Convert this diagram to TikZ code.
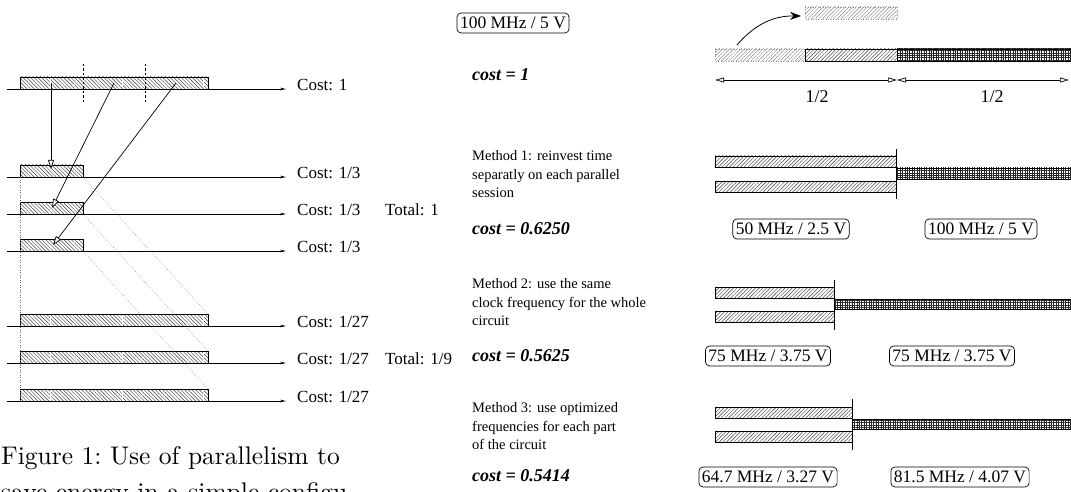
\documentclass[tikz,border=0pt]{standalone}
\usepackage{fontspec}
\newfontfamily\tm{Liberation Serif}
\usetikzlibrary{patterns.meta,arrows.meta}
\tikzset{
  lbar/.style={pattern={Lines[angle=-45,distance=2.6pt,line width=0.45pt]}, pattern color=black!75},
  rbar/.style={pattern={Lines[angle=45,distance=2.6pt,line width=0.45pt]}, pattern color=black!75},
  fadebar/.style={pattern={Lines[angle=45,distance=2.6pt,line width=0.45pt]}, pattern color=black!45},
  edge/.style={draw=black, line width=0.7pt},
  axisline/.style={draw=black, line width=0.8pt, -{Stealth[length=6pt,width=2.6pt]}},
  openarrow/.style={draw=black, line width=0.7pt, -{Triangle[open,length=9pt,width=6pt,fill=white]}},
  dimarrow/.style={draw=black, line width=0.7pt, {Triangle[open,length=9pt,width=5pt]}-{Triangle[open,length=9pt,width=5pt]}},
  guide/.style={draw=black!60, line width=0.5pt, dotted},
  marker/.style={draw=black, line width=0.7pt, dashed, dash pattern=on 2.5pt off 2pt},
  costlabel/.style={anchor=west, inner sep=0pt, font=\tm\fontsize{17}{19}\selectfont},
  freqbox/.style={draw=black, line width=0.7pt, rounded corners=4pt, inner xsep=3pt, inner ysep=4pt, font=\tm\fontsize{17.5}{19}\selectfont},
  costtext/.style={anchor=west, inner sep=0pt, font=\tm\bfseries\itshape\fontsize{18}{20}\selectfont},
  methodtext/.style={anchor=north west, inner sep=0pt, align=left, font=\tm\fontsize{14.5}{18.8}\selectfont},
}
\newcommand{\crossbar}[4]{%
  \fill[pattern={Lines[angle=0,distance=2.4pt,line width=0.55pt]}, pattern color=black!85] (#1,#2) rectangle (#3,#4);
  \fill[pattern={Lines[angle=90,distance=2.4pt,line width=0.55pt]}, pattern color=black!85] (#1,#2) rectangle (#3,#4);
  \draw[edge] (#1,#2) rectangle (#3,#4);}
\begin{document}
\begin{tikzpicture}[x=1pt,y=-1pt]
\useasboundingbox (0,0) rectangle (1071,492);
\clip (0,0) rectangle (1071,492);
\fill[white] (0,0) rectangle (1071,492);

% ---------------- left diagram ----------------
\foreach \t/\w in {77/208,165/83,202/83,239/83,314/208,351/208,389/208}{
  \fill[lbar] (20,\t) rectangle (\w,\t+12);
  \draw[edge] (20,\t+12) -- (20,\t) -- (\w,\t) -- (\w,\t+12);
}
\foreach \t in {77,314,351,389}{
  \foreach \sx in {50,122,203}{
    \draw[white, line width=0.6pt] (\sx,\t+1) -- (\sx,\t+11.5);
  }
}
\foreach \n/\y in {a/89,b/177,c/214,d/251,e/326,f/363,g/401}{
  \coordinate (\n0) at (7,\y);
  \coordinate (\n1) at (286,\y);
  \draw[axisline] (\n0) -- (\n1);
}
\coordinate (m1a) at (83,64); \coordinate (m1b) at (83,102);
\coordinate (m2a) at (145,64); \coordinate (m2b) at (145,102);
\draw[marker] (m1a) -- (m1b);
\draw[marker] (m2a) -- (m2b);
\coordinate (v0) at (20,177); \coordinate (v1) at (20,401);
\draw[guide] (v0) -- (v1);
\coordinate (s1) at (83,177); \coordinate (e1) at (208,314);
\coordinate (s2) at (83,214); \coordinate (e2) at (208,351);
\coordinate (s3) at (83,251); \coordinate (e3) at (208,389);
\draw[guide] (s1) -- (e1);
\draw[guide] (s2) -- (e2);
\draw[guide] (s3) -- (e3);
\coordinate (p1) at (51,83);  \coordinate (q1) at (51,169);
\coordinate (p2) at (114,83); \coordinate (q2) at (52,208);
\coordinate (p3) at (176,83); \coordinate (q3) at (53,245);
\draw[openarrow] (p1) -- (q1);
\draw[openarrow] (p2) -- (q2);
\draw[openarrow] (p3) -- (q3);
\node[costlabel] (c1) at (297,85) {Cost: 1};
\node[costlabel] (c2) at (297,173) {Cost: 1/3};
\node[costlabel] (c3) at (297,210) {Cost: 1/3};
\node[costlabel] (t1) at (385,210) {Total: 1};
\node[costlabel] (c4) at (297,247) {Cost: 1/3};
\node[costlabel] (c5) at (297,322) {Cost: 1/27};
\node[costlabel] (c6) at (297,359) {Cost: 1/27};
\node[costlabel] (t2) at (385,359) {Total: 1/9};
\node[costlabel] (c7) at (297,397) {Cost: 1/27};

% caption
\node[anchor=base west, inner sep=0pt] (cap1) at (1,464)
  {\scalebox{2.55}{\fontsize{10}{12}\selectfont Figure 1:\ Use of parallelism to}};
\node[anchor=base west, inner sep=0pt] (cap2) at (1,500)
  {\scalebox{2.55}{\fontsize{10}{12}\selectfont save energy in a simple configu-}};

% ---------------- right diagram ----------------
\node[freqbox] (f0) at (513,23) {100 MHz / 5 V};
\node[costtext] (k0) at (472,75) {cost = 1};

\fill[fadebar] (805,7) rectangle (897,19);
\draw[black!45, dotted, line width=0.5pt] (805,7) rectangle (897,19);
\fill[fadebar] (715,49) rectangle (805,61);
\draw[black!45, dotted, line width=0.5pt] (715,49) rectangle (805,61);
\fill[rbar] (805,49) rectangle (897,61);
\draw[edge] (805,49) rectangle (897,61);
\crossbar{897}{49}{1075}{61}
\coordinate (ca) at (737,45); \coordinate (cb) at (801,16);
\draw[line width=0.8pt, -{Stealth[length=11pt,width=8pt]}] (ca) to[bend left=25] (cb);
\coordinate (d0) at (715,80); \coordinate (d1) at (897,80); \coordinate (d2) at (1069,80);
\draw[dimarrow] (d0) -- (d1);
\draw[dimarrow] (d1) -- (d2);
\node[inner sep=0pt, font=\tm\fontsize{18}{20}\selectfont] (h1) at (817,97) {1/2};
\node[inner sep=0pt, font=\tm\fontsize{18}{20}\selectfont] (h2) at (992,97) {1/2};

% method 1
\node[methodtext] (mt1) at (472,150) {Method 1: reinvest time\\separatly on each parallel\\session};
\node[costtext] (k1) at (472,229) {cost = 0.6250};
\fill[rbar] (715,156) rectangle (896,167);
\draw[edge] (715,156) rectangle (896,167);
\fill[rbar] (715,181) rectangle (896,192);
\draw[edge] (715,181) rectangle (896,192);
\crossbar{896}{168}{1075}{179}
\coordinate (w1a) at (896,149); \coordinate (w1b) at (896,199);
\draw[edge] (w1a) -- (w1b);
\node[freqbox] (f1a) at (791,229) {50 MHz / 2.5 V};
\node[freqbox] (f1b) at (981,229) {100 MHz / 5 V};

% method 2
\node[methodtext] (mt2) at (472,278) {Method 2: use the same\\clock frequency for the whole\\circuit};
\node[costtext] (k2) at (472,356) {cost = 0.5625};
\fill[rbar] (715,287) rectangle (834,298);
\draw[edge] (715,287) rectangle (834,298);
\fill[rbar] (715,311) rectangle (834,322);
\draw[edge] (715,311) rectangle (834,322);
\crossbar{834}{299}{1075}{309}
\coordinate (w2a) at (834,280); \coordinate (w2b) at (834,330);
\draw[edge] (w2a) -- (w2b);
\node[freqbox] (f2a) at (768,356) {75 MHz / 3.75 V};
\node[freqbox] (f2b) at (952,356) {75 MHz / 3.75 V};

% method 3
\node[methodtext] (mt3) at (472,402) {Method 3: use optimized\\frequencies for each part\\of the circuit};
\node[costtext] (k3) at (472,476) {cost = 0.5414};
\fill[rbar] (715,407) rectangle (852,418);
\draw[edge] (715,407) rectangle (852,418);
\fill[rbar] (715,431) rectangle (852,442);
\draw[edge] (715,431) rectangle (852,442);
\crossbar{852}{419}{1075}{429}
\coordinate (w3a) at (852,399); \coordinate (w3b) at (852,450);
\draw[edge] (w3a) -- (w3b);
\node[freqbox] (f3a) at (768,477) {64.7 MHz / 3.27 V};
\node[freqbox] (f3b) at (960,477) {81.5 MHz / 4.07 V};
\end{tikzpicture}
\end{document}
